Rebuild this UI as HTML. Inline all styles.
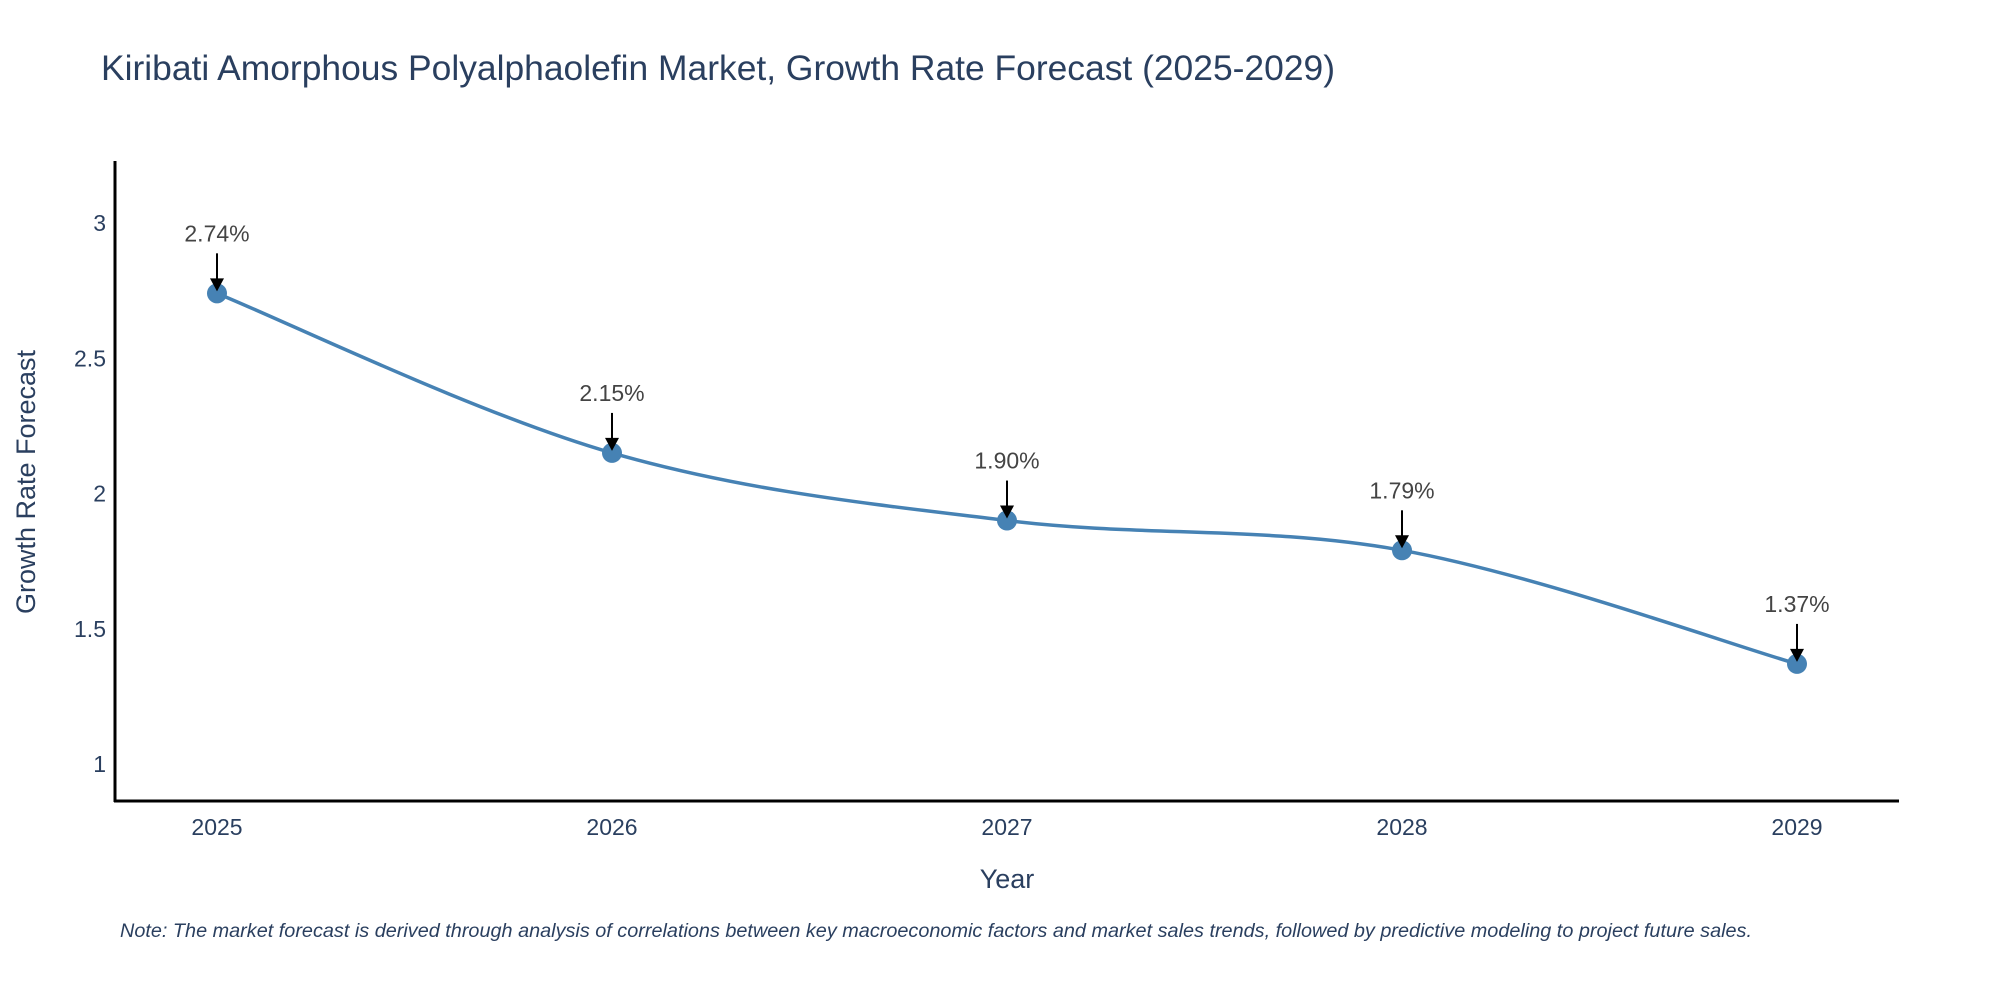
<!DOCTYPE html>
<html><head><meta charset="utf-8"><style>
body{margin:0;background:#fff;}
svg{display:block;font-family:"Liberation Sans",sans-serif;}
</style></head><body>
<svg id="chart" width="2000" height="1000" viewBox="0 0 2000 1000">
<text x="101" y="80" font-size="35" fill="#2a3f5f" textLength="1234" lengthAdjust="spacingAndGlyphs">Kiribati Amorphous Polyalphaolefin Market, Growth Rate Forecast (2025-2029)</text>
<g id="yticks"></g>
<g id="xticks"></g>
<path id="line" fill="none" stroke="#4682b4" stroke-width="3.5"></path>
<g id="marks"></g>
<g id="annots"></g>
<line x1="115" y1="161" x2="115" y2="802" stroke="#000" stroke-width="3"/>
<line x1="114" y1="801" x2="1899" y2="801" stroke="#000" stroke-width="3"/>
<text x="1007" y="888" font-size="27" fill="#2a3f5f" text-anchor="middle">Year</text>
<text transform="translate(35,482) rotate(-90)" font-size="27" fill="#2a3f5f" text-anchor="middle">Growth Rate Forecast</text>
<text x="120" y="937" font-size="19" font-style="italic" fill="#2a3f5f" textLength="1632" lengthAdjust="spacingAndGlyphs">Note: The market forecast is derived through analysis of correlations between key macroeconomic factors and market sales trends, followed by predictive modeling to project future sales.</text>
</svg>
<script>
const years = [2025, 2026, 2027, 2028, 2029];
const values = [2.74, 2.15, 1.90, 1.79, 1.37];
const labels = ["2.74%", "2.15%", "1.90%", "1.79%", "1.37%"];
const yTicks = [1, 1.5, 2, 2.5, 3];
const yTickLabels = ["1", "1.5", "2", "2.5", "3"];

const NS = "http://www.w3.org/2000/svg";
function xs(v){ return 217 + (v - 2025) * 395; }
function ys(v){ return 764 - (v - 1) * 270.5; }
function mk(tag, attrs, parent){
  const e = document.createElementNS(NS, tag);
  for (const k in attrs) e.setAttribute(k, attrs[k]);
  parent.appendChild(e); return e;
}
const yt = document.getElementById('yticks');
yTicks.forEach((t,i)=>{
  const e = mk('text', {x:106, y:ys(t)+8, 'font-size':23, fill:'#2a3f5f', 'text-anchor':'end'}, yt);
  
  
  e.textContent = yTickLabels[i];
});
const xt = document.getElementById('xticks');
years.forEach(y=>{
  const e = mk('text', {x:xs(y), y:835, 'font-size':23, fill:'#2a3f5f', 'text-anchor':'middle'}, xt);
  
  
  e.textContent = String(y);
});
const pts = years.map((y,i)=>[xs(y), ys(values[i])]);
let d = `M${pts[0][0]},${pts[0][1]}`;
const s = 0.17;
for (let i=0;i<pts.length-1;i++){
  const p0 = pts[Math.max(i-1,0)], p1 = pts[i], p2 = pts[i+1], p3 = pts[Math.min(i+2,pts.length-1)];
  const c1 = [p1[0]+(p2[0]-p0[0])*s, p1[1]+(p2[1]-p0[1])*s];
  const c2 = [p2[0]-(p3[0]-p1[0])*s, p2[1]-(p3[1]-p1[1])*s];
  d += ` C${c1[0]},${c1[1]} ${c2[0]},${c2[1]} ${p2[0]},${p2[1]}`;
}
document.getElementById('line').setAttribute('d', d);
const mg = document.getElementById('marks');
const ag = document.getElementById('annots');
pts.forEach((p,i)=>{
  const c = mk('circle', {cx:p[0], cy:p[1], r:10, fill:'#4682b4'}, mg);
  
  
  const l = mk('line', {x1:p[0], y1:p[1]-40, x2:p[0], y2:p[1]-12, stroke:'#000', 'stroke-width':2}, ag);
  
  
  const h = mk('path', {d:`M${p[0]-7},${p[1]-15} L${p[0]+7},${p[1]-15} L${p[0]},${p[1]-2} Z`, fill:'#000'}, ag);
  
  
  const t = mk('text', {x:p[0], y:p[1]-52, 'font-size':23, fill:'#444', 'text-anchor':'middle'}, ag);
  
  
  t.textContent = labels[i];
});
</script>
</body></html>
